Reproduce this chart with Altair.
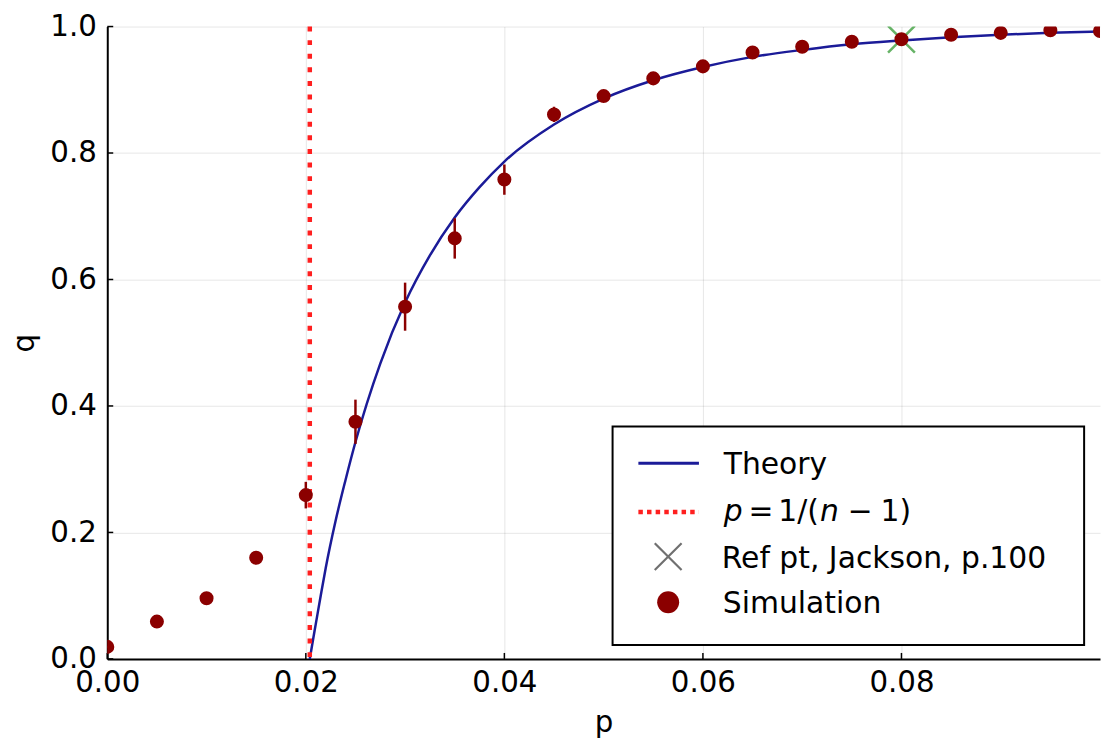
import altair as alt
import pandas as pd

# ---- data ----
sim_p = [0.0, 0.005, 0.01, 0.015, 0.02, 0.025, 0.03, 0.035, 0.04, 0.045, 0.05,
         0.055, 0.06, 0.065, 0.07, 0.075, 0.08, 0.085, 0.09, 0.095, 0.1]
sim_q = [0.019, 0.059, 0.096, 0.160, 0.259, 0.375, 0.557, 0.665, 0.758, 0.861, 0.890,
         0.918, 0.937, 0.959, 0.968, 0.976, 0.980, 0.987, 0.990, 0.994, 0.993]
sim_err = [0.002, 0.003, 0.004, 0.008, 0.021, 0.035, 0.038, 0.032, 0.024, 0.012, 0.007,
           0.005, 0.004, 0.004, 0.003, 0.003, 0.003, 0.002, 0.002, 0.002, 0.002]

theory_p = [0.0204, 0.0207, 0.021, 0.0215, 0.022, 0.023, 0.024, 0.025, 0.0275, 0.03,
            0.0325, 0.035, 0.0375, 0.04, 0.045, 0.05, 0.055, 0.06, 0.065, 0.07,
            0.075, 0.08, 0.085, 0.09, 0.095, 0.1]
theory_q = [0.0, 0.028, 0.055, 0.100, 0.1435, 0.2185, 0.283, 0.343, 0.467, 0.5635,
            0.638, 0.698, 0.746, 0.7865, 0.845, 0.886, 0.915, 0.936, 0.952, 0.963,
            0.972, 0.978, 0.983, 0.987, 0.990, 0.992]

threshold_p = [0.0204]          # p = 1/(n-1)
ref_p = [0.08]                  # Jackson reference point
ref_q = [0.98]

x_ticks = [0.0, 0.02, 0.04, 0.06, 0.08]
y_ticks = [0.0, 0.2, 0.4, 0.6, 0.8, 1.0]

legend_labels = ["Theory", "Ref pt, Jackson, p.100", "Simulation"]

# ---- styling ----
FONT = "DejaVu Sans"
NAVY = "#1b1b98"
DARKRED = "#8b0000"
RED = "#ff1f1f"
GREEN = "#66b366"
XSHAPE = "M -1 -1 L 1 1 M -1 1 L 1 -1"

sim = pd.DataFrame({"p": sim_p, "q": sim_q,
                    "lo": [q - e for q, e in zip(sim_q, sim_err)],
                    "hi": [q + e for q, e in zip(sim_q, sim_err)]})
theory = pd.DataFrame({"p": theory_p, "q": theory_q})
thr = pd.DataFrame({"p": threshold_p})
ref = pd.DataFrame({"p": ref_p, "q": ref_q})
xt = pd.DataFrame({"p": x_ticks})
yt = pd.DataFrame({"q": y_ticks})
one = pd.DataFrame({"a": [0]})

xscale = alt.Scale(domain=[0, 0.1], nice=False, zero=False)
yscale = alt.Scale(domain=[0, 1], nice=False, zero=False)

X = alt.X("p:Q", scale=xscale, title="p",
          axis=alt.Axis(values=x_ticks, format=".2f", labelPadding=10, titlePadding=12,
                        labelFlush=False))
Y = alt.Y("q:Q", scale=yscale, title="q",
          axis=alt.Axis(values=y_ticks, format=".1f", labelPadding=11, titlePadding=10,
                        labelFlush=False))

xtick_layer = alt.Chart(xt).mark_rule(color="black", strokeWidth=1.5).encode(
    x=alt.X("p:Q", scale=xscale), y=alt.value(637), y2=alt.value(631))
ytick_layer = alt.Chart(yt).mark_rule(color="black", strokeWidth=1.5).encode(
    y=alt.Y("q:Q", scale=yscale), x=alt.value(0), x2=alt.value(6))

theory_layer = alt.Chart(theory).mark_line(
    color=NAVY, strokeWidth=2.5, clip=True, interpolate="monotone").encode(x=X, y=Y)

thr_layer = alt.Chart(thr).mark_rule(
    color=RED, strokeWidth=4.5, strokeDash=[5, 8.7]).encode(x=alt.X("p:Q", scale=xscale))

err_layer = alt.Chart(sim).mark_rule(color=DARKRED, strokeWidth=2.5, clip=True).encode(
    x=alt.X("p:Q", scale=xscale), y=alt.Y("lo:Q", scale=yscale), y2="hi:Q")

ref_layer = alt.Chart(ref).mark_point(
    shape=XSHAPE, size=730, filled=False, stroke=GREEN, strokeWidth=2.5,
    opacity=1, clip=True).encode(x=alt.X("p:Q", scale=xscale), y=alt.Y("q:Q", scale=yscale))

pts_layer = alt.Chart(sim).mark_circle(
    color=DARKRED, size=200, opacity=1, clip=True).encode(
    x=alt.X("p:Q", scale=xscale), y=alt.Y("q:Q", scale=yscale))

# ---- hand-built legend (plot-pixel layout) ----
leg_box = alt.Chart(one).mark_rect(fill="white", stroke="black", strokeWidth=2).encode(
    x=alt.value(509), x2=alt.value(984), y=alt.value(403), y2=alt.value(623))
leg_line = alt.Chart(one).mark_rule(color=NAVY, strokeWidth=3).encode(
    x=alt.value(535), x2=alt.value(596), y=alt.value(440))
leg_dot = alt.Chart(one).mark_rule(color=RED, strokeWidth=4.5, strokeDash=[4.5, 4.2]).encode(
    x=alt.value(535), x2=alt.value(596), y=alt.value(489))
leg_x = alt.Chart(one).mark_point(shape=XSHAPE, size=730, filled=False, stroke="#707070",
                                  strokeWidth=2.2, opacity=1).encode(
    x=alt.value(565), y=alt.value(534))
leg_c = alt.Chart(one).mark_point(shape="circle", size=490, filled=True, color=DARKRED,
                                  opacity=1).encode(x=alt.value(565), y=alt.value(580))


def txt(s, x, y, italic=False):
    return alt.Chart(one).mark_text(
        text=s, font=FONT, fontSize=30, align="left", baseline="alphabetic",
        fontStyle="italic" if italic else "normal", color="black").encode(
        x=alt.value(x), y=alt.value(y))


leg_text = [
    txt(legend_labels[0], 621, 451),
    txt("p", 621, 498, True), txt("=", 646, 498), txt("1/(", 676, 498),
    txt("n", 718, 498, True), txt("\u2212", 746, 498), txt("1)", 779, 498),
    txt(legend_labels[1], 619, 545),
    txt(legend_labels[2], 620, 591),
]

chart = alt.layer(
    theory_layer, xtick_layer, ytick_layer, thr_layer, err_layer, ref_layer, pts_layer,
    leg_box, leg_line, leg_dot, leg_x, leg_c, *leg_text
).properties(
    width=1000, height=637,
    autosize=alt.AutoSizeParams(type="none"),
    padding={"left": 100, "top": 16, "right": 1, "bottom": 77},
).configure_view(stroke=None).configure_axis(
    domainColor="black", domainWidth=2, ticks=False,
    gridColor="#000000", gridOpacity=0.1, gridWidth=1,
    labelFont=FONT, labelFontSize=29.5, labelColor="black",
    titleFont=FONT, titleFontSize=29.5, titleFontWeight="normal", titleColor="black",
)

chart.save("out.html", embed_options={"renderer": "svg", "actions": False})
